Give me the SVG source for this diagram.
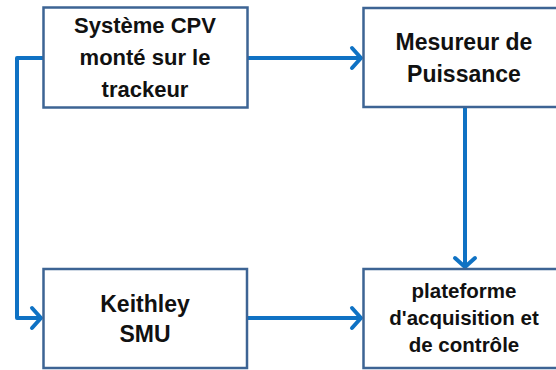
<svg xmlns="http://www.w3.org/2000/svg" width="556" height="370" viewBox="0 0 556 370">
<style>
.box{fill:#ffffff;stroke:#3d6494;stroke-width:2.5}
.t{font-family:"Liberation Sans",Arial,sans-serif;font-weight:bold;fill:#111111;text-anchor:middle}
.c{fill:none;stroke:#0f72c4;stroke-width:4;stroke-linejoin:round}
</style>
<defs>
<marker id="ah" markerUnits="userSpaceOnUse" markerWidth="30" markerHeight="30" viewBox="-20 -15 30 30" refX="0" refY="0" orient="auto" overflow="visible">
<path d="M-9,-10 L0,0 L-9,10" fill="none" stroke="#0f72c4" stroke-width="4" stroke-linecap="round" stroke-linejoin="round"/>
</marker>
</defs>
<rect width="556" height="370" fill="#ffffff"/>
<g id="connectors">
<path class="c" d="M43,58 H17 V318 H41" marker-end="url(#ah)"/>
<path class="c" d="M248,58 H361" marker-end="url(#ah)"/>
<path class="c" d="M465,108 V267" marker-end="url(#ah)"/>
<path class="c" d="M247,318 H361" marker-end="url(#ah)"/>
</g>
<g id="cpv">
<rect class="box" x="43.5" y="7.5" width="204" height="100"/>
<text class="t" font-size="22" x="145" y="33">Système CPV</text>
<text class="t" font-size="22" x="145" y="65">monté sur le</text>
<text class="t" font-size="22" x="145" y="97">trackeur</text>
</g>
<g id="mesureur">
<rect class="box" x="363.5" y="8" width="205" height="99"/>
<text class="t" font-size="23" x="464" y="50">Mesureur de</text>
<text class="t" font-size="23" x="464" y="82">Puissance</text>
</g>
<g id="keithley">
<rect class="box" x="43.5" y="269" width="203.5" height="99"/>
<text class="t" font-size="23" x="145" y="312">Keithley</text>
<text class="t" font-size="23" x="145" y="342">SMU</text>
</g>
<g id="plateforme">
<rect class="box" x="363.5" y="269" width="205" height="99"/>
<text class="t" font-size="20.5" x="464" y="298">plateforme</text>
<text class="t" font-size="20.5" x="464" y="325">d'acquisition et</text>
<text class="t" font-size="20.5" x="464" y="352">de contrôle</text>
</g>
</svg>
